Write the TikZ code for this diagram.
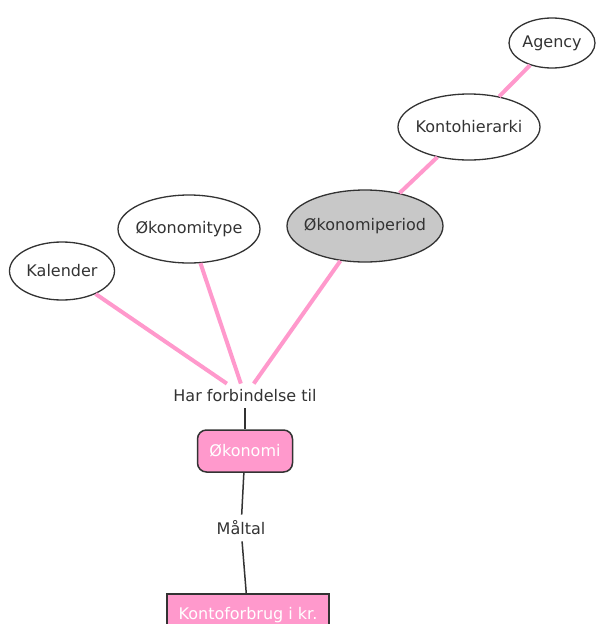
\documentclass[tikz,border=0pt]{standalone}
\usepackage{fontspec}
\setmainfont{DejaVu Sans}
\usetikzlibrary{shapes.geometric}
\definecolor{linkpink}{HTML}{FF99CC}
\definecolor{boxpink}{HTML}{FF99CC}
\definecolor{periodgray}{HTML}{C8C8C8}
\definecolor{edgegray}{HTML}{333333}
\begin{document}
\begin{tikzpicture}[x=1pt, y=-1pt]
\tikzset{ font=\fontsize{16}{19}\selectfont, text=edgegray,
  entity/.style={draw=edgegray, line width=1.3pt, ellipse, inner sep=-15pt},
  rolebox/.style={draw=edgegray, line width=1.5pt, fill=boxpink, text=white, inner sep=0pt},
  relname/.style={inner xsep=2pt, inner ysep=6pt},
  pinklink/.style={linkpink, line width=4pt},
  darklink/.style={edgegray, line width=1.5pt},
}
\useasboundingbox (0,0) rectangle (597,624);

%\draw [lightgray, dashed](0,0) grid[step=50] (597,624);

\node [entity, minimum width=86, minimum height=50] (A) at (552,43) {Agency};
\node [entity, minimum width=142, minimum height=66] (KH) at (469,127) {Kontohierarki};
\node [entity, fill=periodgray, minimum width=156, minimum height=72] (OP) at (365,226) {Økonomiperiod};
\node [entity, minimum width=142, minimum height=68] (OT) at (189,229) {Økonomitype};
\node [entity, minimum width=105, minimum height=58] (K) at (62,271) {Kalender};

\node [relname] (HF) at (245,396) {Har forbindelse til};
\node [rolebox, rounded corners=9pt, minimum width=95, minimum height=42] (OK) at (245,451) {Økonomi};
\node [relname] (M) at (241,528) {Måltal};
\node [rolebox, minimum width=162, minimum height=42] (KF) at (248,615) {Kontoforbrug i kr.};

\draw [pinklink] (A)  -- (KH);
\draw [pinklink] (KH) -- (OP);
\draw [pinklink] (K)  -- (HF);
\draw [pinklink] (OT) -- (HF);
\draw [pinklink] (OP) -- (HF);

\draw [darklink] (HF) -- (OK);
\draw [darklink] (OK) -- (M);
\draw [darklink] (M)  -- (KF);
\end{tikzpicture}
\end{document}
